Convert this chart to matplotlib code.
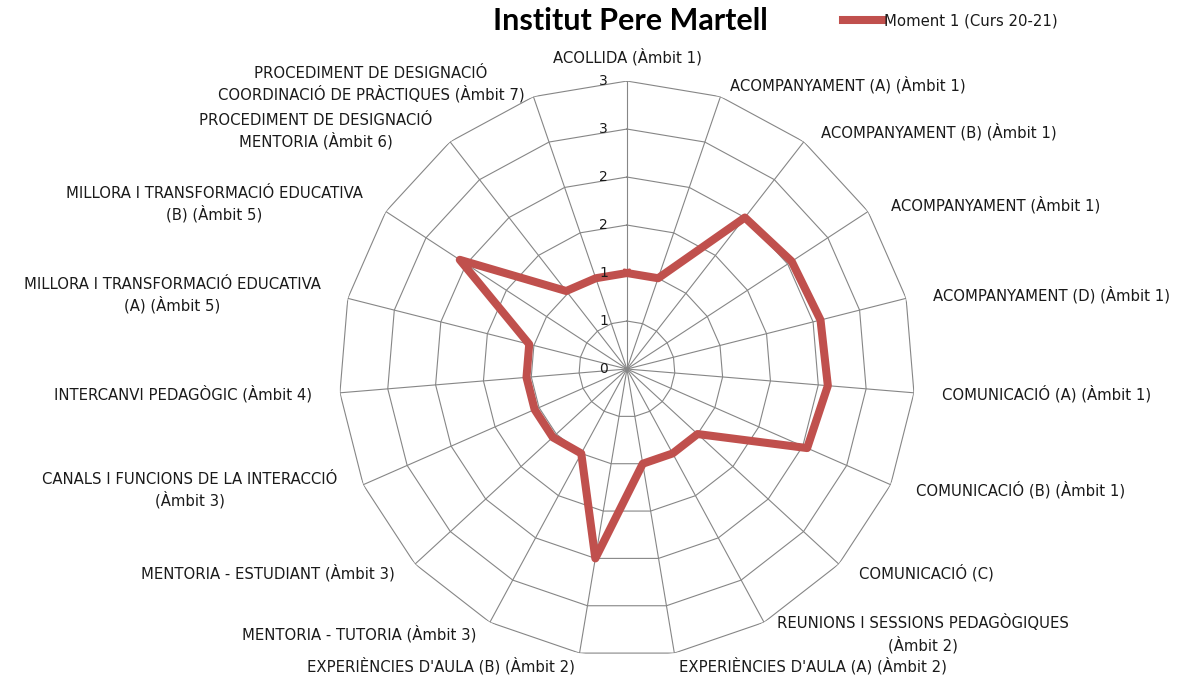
import numpy as np
import matplotlib
matplotlib.use('Agg')
import matplotlib.pyplot as plt
from matplotlib.transforms import offset_copy

# data
categories = [
    'ACOLLIDA (Àmbit 1)',
    'ACOMPANYAMENT (A) (Àmbit 1)',
    'ACOMPANYAMENT (B) (Àmbit 1)',
    'ACOMPANYAMENT (Àmbit 1)',
    'ACOMPANYAMENT (D) (Àmbit 1)',
    'COMUNICACIÓ (A) (Àmbit 1)',
    'COMUNICACIÓ (B) (Àmbit 1)',
    'COMUNICACIÓ (C)',
    'REUNIONS I SESSIONS PEDAGÒGIQUES\n(Àmbit 2)',
    "EXPERIÈNCIES D'AULA (A) (Àmbit 2)",
    "EXPERIÈNCIES D'AULA (B) (Àmbit 2)",
    'MENTORIA - TUTORIA (Àmbit 3)',
    'MENTORIA - ESTUDIANT (Àmbit 3)',
    'CANALS I FUNCIONS DE LA INTERACCIÓ\n(Àmbit 3)',
    'INTERCANVI PEDAGÒGIC (Àmbit 4)',
    'MILLORA I TRANSFORMACIÓ EDUCATIVA\n(A) (Àmbit 5)',
    'MILLORA I TRANSFORMACIÓ EDUCATIVA\n(B) (Àmbit 5)',
    'PROCEDIMENT DE DESIGNACIÓ\nMENTORIA (Àmbit 6)',
    'PROCEDIMENT DE DESIGNACIÓ\nCOORDINACIÓ DE PRÀCTIQUES (Àmbit 7)',
]
moment1 = [1.0, 1.0, 2.0, 2.05, 2.08, 2.1, 2.05, 1.0, 1.0, 1.0,
           2.0, 1.0, 1.05, 1.05, 1.05, 1.05, 2.08, 1.03, 1.0]
ring_values = [0, 0.5, 1, 1.5, 2, 2.5, 3]
ring_labels = ['0', '1', '1', '2', '2', '3', '3']
series_name = 'Moment 1 (Curs 20-21)'
title = 'Institut Pere Martell'

plt.rcParams['font.family'] = ['DejaVu Sans']
grid_color = '#868686'
line_color = '#C0504D'
text_color = '#1a1a1a'
fs = 10.7

fig = plt.figure(figsize=(11.91, 6.82), dpi=100)
ax = fig.add_axes([0.2846, 0.0366, 0.4836, 0.8446], projection='polar')
ax.set_theta_zero_location('N')
ax.set_theta_direction(-1)
ax.set_ylim(0, 3)
ax.axis('off')

n = len(categories)
angles = np.linspace(0, 2 * np.pi, n, endpoint=False)
closed = np.append(angles, angles[0])

# polygon grid
for r in ring_values[1:]:
    ax.plot(closed, [r] * (n + 1), color=grid_color, lw=0.8, zorder=1)
for a in angles:
    ax.plot([a, a], [0, ring_values[-1]], color=grid_color, lw=0.8, zorder=1)

# series
vals = np.append(moment1, moment1[0])
ax.plot(closed, vals, color=line_color, lw=5.8, solid_joinstyle='round',
        zorder=3, label=series_name)

# ring labels along the top spoke
tick_tr = offset_copy(ax.transData, fig=fig, x=-19, y=0, units='dots')
for r, lbl in zip(ring_values, ring_labels):
    ax.text(0, r, lbl, transform=tick_tr, ha='right', va='center',
            fontsize=10, color=text_color)

# category labels
for a, lbl in zip(angles, categories):
    s, c = np.sin(a), np.cos(a)
    if abs(s) < 1e-6:
        ha, va = 'center', 'bottom'
        tr = offset_copy(ax.transData, fig=fig, x=0, y=16, units='dots')
    else:
        ha = 'left' if s > 0 else 'right'
        va = 'center'
        tr = offset_copy(ax.transData, fig=fig, x=28 * s, y=13 * c,
                         units='dots')
    ax.text(a, ring_values[-1], lbl, transform=tr, ha=ha, va=va,
            multialignment='center', fontsize=fs, color=text_color,
            linespacing=1.3)

fig.text(630 / 1191, 1 - 21 / 682, title, family=['Lato', 'DejaVu Sans'],
         ha='center', va='center', fontsize=22, fontweight='bold',
         color='black')

ax.legend(loc='center left', bbox_to_anchor=(843 / 1191, 1 - 21 / 682),
          bbox_transform=fig.transFigure, frameon=False, borderpad=0,
          borderaxespad=0, handlelength=2.7, handletextpad=0.05,
          fontsize=fs, labelcolor=text_color)

fig.savefig('out.png', dpi=100, facecolor='white')
